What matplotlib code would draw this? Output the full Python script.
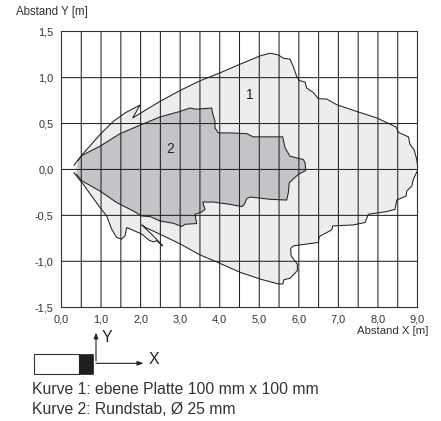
import numpy as np
import matplotlib
matplotlib.use("Agg")
import matplotlib.pyplot as plt
from matplotlib.patches import Rectangle

plt.rcParams['font.family'] = ['Liberation Sans', 'DejaVu Sans']

# Kurve 1: ebene Platte
k1_x = [.316, .526, .973, 1.31, 1.606, 1.985, 1.80, 2.068, 2.49, 2.996, 3.50, 4.008, 4.513, 5.019, 5.272,
        5.482, 5.608, 5.777, 5.861, 5.947, 6.013, 6.157, 6.2, 6.367, 6.493, 6.706, 6.958, 7.464, 7.97, 8.458,
        8.516, 8.769, 8.812, 8.913, 8.981, 9.014, 8.895, 8.855, 8.728, 8.71, 8.475, 8.432, 8.222, 7.757, 7.674,
        7.378, 6.857, 6.832, 6.518, 6.493, 5.861, 5.795, 5.803, 5.962, 5.962, 5.777, 5.626, 5.593, 5.482, 5.019,
        4.513, 4.008, 3.50, 2.996, 2.49, 2.11, 2.03, 2.28, 2.559, 2.415, 2.313, 2.212, 2.035, 1.648, 1.606,
        1.522, 1.396, 1.269, 1.143, .973, .551, .316]
k1_y = [.047, .163, .380, .524, .615, .702, .561, .632, .741, .860, .965, 1.052, 1.146, 1.236, 1.266,
        1.247, 1.211, 1.201, 1.120, 1.012, .969, .951, .886, .838, .770, .767, .705, .632, .561, .463,
        .405, .355, .271, .217, .108, 0.0, -.108, -.181, -.235, -.29, -.333, -.434, -.459, -.488, -.578,
        -.604, -.615, -.658, -.73, -.795, -.832, -.86, -.94, -1.03, -1.103, -1.185, -1.2, -1.247, -1.247, -1.193,
        -1.12, -1.023, -.93, -.81, -.705, -.629, -.604, -.705, -.832, -.776, -.788, -.77, -.705, -.632, -.723,
        -.759, -.741, -.651, -.507, -.415, -.163, -.036]

# Kurve 2: Rundstab
k2_x = [.417, .518, .721, .973, 1.479, 2.018, 2.49, 2.996, 3.249, 3.40, 3.585, 3.798, 3.818, 3.881, 3.881,
        3.965, 4.26, 4.683, 4.85, 5.593, 5.651, 5.777, 6.114, 6.157, 6.175, 5.987, 5.76, 5.734, 5.694, 5.272,
        4.766, 4.683, 4.622, 4.556, 4.26, 3.838, 3.57, 3.628, 3.545, 3.375, 3.418, 3.123, 3.039, 2.827, 2.49,
        2.238, 2.028, 1.815, 1.396, .973, .526, .379]
k2_y = [.098, .152, .198, .253, .39, .488, .572, .632, .669, .656, .662, .669, .615, .524, .452,
        .398, .398, .39, .355, .355, .235, .144, .108, .073, -.011, -.054, -.144, -.253, -.333, -.325,
        -.3, -.318, -.38, -.405, -.38, -.355, -.355, -.434, -.463, -.488, -.589, -.597, -.621, -.586, -.561,
        -.513, -.507, -.452, -.361, -.235, -.127, -.054]

x_ticks = np.arange(0, 9.5, 0.5)
y_ticks = np.arange(-1.5, 2.0, 0.5)
x_labels = ['0,0', '1,0', '2,0', '3,0', '4,0', '5,0', '6,0', '7,0', '8,0', '9,0']
y_labels = ['-1,5', '-1,0', '-0,5', '0,0', '0,5', '1,0', '1,5']

W, H = 441, 421
fig = plt.figure(figsize=(W / 100, H / 100), dpi=100)
ax = fig.add_axes([61.5 / W, 1 - 307.2 / H, 356 / W, 276.5 / H])

ax.fill(k1_x, k1_y, color='#ecedec', lw=0, zorder=1)
ax.fill(k2_x, k2_y, color='#c3c4c8', lw=0, zorder=2)
ax.plot(k1_x, k1_y, color='#222222', lw=0.75, zorder=4)
ax.plot(k2_x, k2_y, color='#222222', lw=0.75, zorder=4)

for v in x_ticks[1:-1]:
    ax.axvline(v, color='#222222', lw=0.75, zorder=3, snap=False)
for v in y_ticks[1:-1]:
    ax.axhline(v, color='#222222', lw=0.75, zorder=3, snap=False)

ax.set_xlim(0, 9)
ax.set_ylim(-1.486, 1.511)
ax.set_xticks(x_ticks[::2])
ax.set_xticklabels(x_labels)
ax.set_yticks(y_ticks)
ax.set_yticklabels(y_labels)
ax.tick_params(length=0, labelsize=7.9, labelcolor='#333333')
ax.tick_params(axis='x', pad=5.5)
ax.tick_params(axis='y', pad=5.5)
for s in ax.spines.values():
    s.set_linewidth(0.8)
    s.set_color('#333333')

ax.text(4.77, 0.813, '1', fontsize=10, color='#222222', ha='center', va='center', zorder=5)
ax.text(2.745, 0.228, '2', fontsize=10, color='#222222', ha='center', va='center', zorder=5)

# overlay in pixel coordinates for the captions and the sensor sketch
ov = fig.add_axes([0, 0, 1, 1])
ov.set_xlim(0, W)
ov.set_ylim(H, 0)
ov.axis('off')
ov.patch.set_alpha(0)

ov.text(16, 12, 'Abstand Y [m]', fontsize=8.3, color='#333333', va='center')
ov.text(428, 331, 'Abstand X [m]', fontsize=8.2, color='#333333', va='center', ha='right')

ov.add_patch(Rectangle((34, 354), 45, 20, fc='white', ec='#333333', lw=0.8))
ov.add_patch(Rectangle((79, 354), 14, 20, fc='#1f1f22', ec='#1f1f22', lw=0.5))
ov.annotate('', xy=(96, 332.5), xytext=(96, 361),
            arrowprops=dict(arrowstyle='-|>,head_length=0.35,head_width=0.13', color='#222222', lw=0.8, shrinkA=0, shrinkB=0))
ov.annotate('', xy=(143.5, 363.3), xytext=(96, 363.3),
            arrowprops=dict(arrowstyle='-|>,head_length=0.35,head_width=0.13', color='#222222', lw=0.8, shrinkA=0, shrinkB=0))
ov.text(107, 337, 'Y', fontsize=11.5, color='#222222', ha='center', va='center')
ov.text(154, 360, 'X', fontsize=11.5, color='#222222', ha='center', va='center')

ov.text(32, 390, 'Kurve 1: ebene Platte 100 mm x 100 mm', fontsize=11.3, color='#333333', va='center')
ov.text(32, 409, 'Kurve 2: Rundstab, Ø 25 mm', fontsize=11.3, color='#333333', va='center')

fig.savefig('out.png', dpi=100)
